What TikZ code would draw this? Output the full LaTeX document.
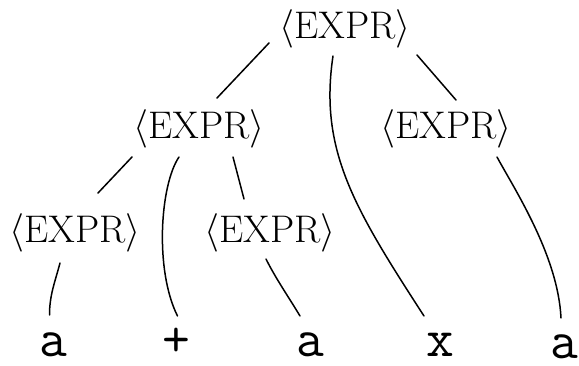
\RequirePackage{fix-cm}
\documentclass[tikz,border=0pt]{standalone}
\usepackage{fontspec}
\usetikzlibrary{calc}
\tikzset{
  nt/.style={anchor=base, inner sep=0pt, font=\fontsize{38.5}{44}\selectfont},
  leaf/.style={anchor=base, inner sep=0pt, font=\fontsize{54}{60}\selectfont\ttfamily},
  edge/.style={line width=1.5pt, line cap=round}
}
\begin{document}
\begin{tikzpicture}[x=1pt, y=-1pt]
\useasboundingbox[fill=white] (0,0) rectangle (579,366);
% nonterminals
\node[nt] (root) at (345,39) {$\langle$EXPR$\rangle$};
\node[nt] (L) at (199,139) {$\langle$EXPR$\rangle$};
\node[nt] (R) at (446,139) {$\langle$EXPR$\rangle$};
\node[nt] (LL) at (75,243) {$\langle$EXPR$\rangle$};
\node[nt] (LM) at (270,243) {$\langle$EXPR$\rangle$};
% leaves
\node[leaf] (a1) at (53.5,357) {a};
\node[leaf] (plus) at (176.5,357) {+};
\node[leaf] (a2) at (310,357) {a};
\node[leaf] (x) at (440,357) {x};
\node[leaf] (a3) at (564,359) {a};
% edges
\draw[edge] ($(root.base)+(-76,4)$) -- ($(L.base)+(18,-41)$);
\draw[edge] ($(root.base)+(-12,17)$) .. controls +(-14,94) and +(-70,-108) .. ($(x.base)+(-16,-41)$);
\draw[edge] ($(root.base)+(72,16)$) -- ($(R.base)+(10,-39)$);
\draw[edge] ($(L.base)+(-67,18)$) -- ($(LL.base)+(23,-50)$);
\draw[edge] ($(L.base)+(-20,18)$) .. controls +(-19,28) and +(-23,-46) .. ($(plus.base)+(1,-41)$);
\draw[edge] ($(L.base)+(34,18)$) -- ($(LM.base)+(-26,-44)$);
\draw[edge] ($(R.base)+(51,18)$) .. controls +(18,33) and +(-3,-62) .. ($(a3.base)+(-3,-41)$);
\draw[edge] ($(LL.base)+(-15,20)$) .. controls +(-5,19) and +(0,-20) .. ($(a1.base)+(-4,-42)$);
\draw[edge] ($(LM.base)+(-4,16)$) .. controls +(10,20) and +(-12,-20) .. ($(a2.base)+(-10,-41)$);
\end{tikzpicture}
\end{document}
